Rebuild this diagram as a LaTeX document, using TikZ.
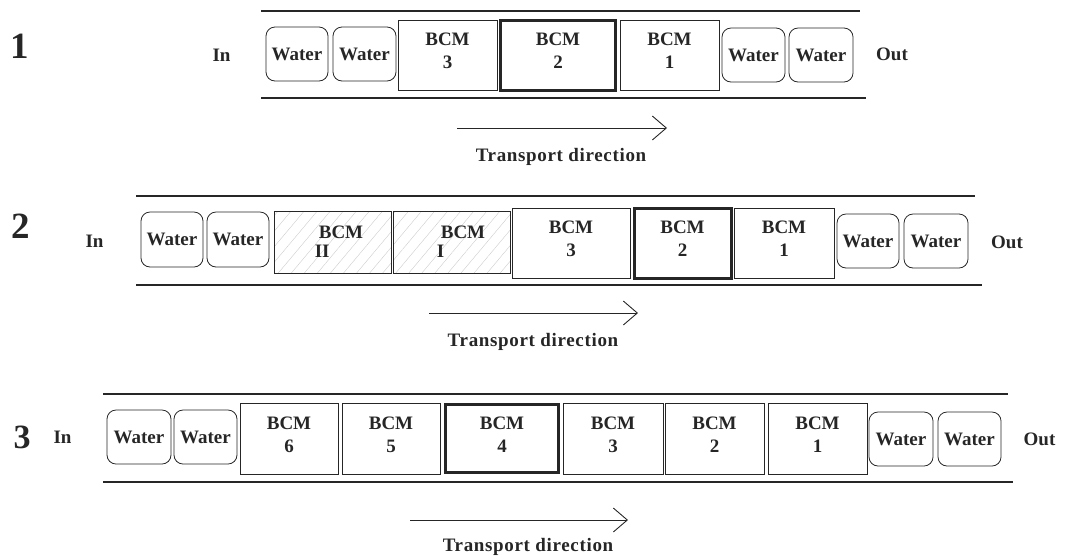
\documentclass[tikz,border=0pt]{standalone}
\usepackage{fontspec}
\setmainfont{Liberation Serif}
\usetikzlibrary{arrows.meta,patterns.meta}
\definecolor{ink}{HTML}{262626}
\begin{document}
\begin{tikzpicture}[x=1pt,y=-1pt,
  every node/.style={font=\fontsize{19}{23}\selectfont\bfseries, text=ink, inner sep=0pt},
  water/.style={draw=ink, line width=0.8pt, rounded corners=9pt, minimum height=54pt},
  bcm/.style={draw=ink, line width=0.9pt, align=center, minimum height=70pt, text depth=8pt},
  bcmbold/.style={bcm, line width=3pt},
  hatch/.style={draw=ink, line width=0.9pt, align=left, minimum height=62pt,
    pattern={Lines[angle=50,distance=10pt,line width=0.4pt]}, pattern color=gray!40},
  tube/.style={draw=ink, line width=1.6pt},
  dirarrow/.style={draw=ink, line width=0.9pt, -{Straight Barb[length=14pt,width=24pt,line width=0.9pt]}},
  dirtext/.style={font=\fontsize{19}{23}\selectfont\bfseries\addfontfeature{LetterSpace=3.5}},
  rownum/.style={font=\fontsize{37}{40}\selectfont\bfseries},
]
\useasboundingbox (0,0) rectangle (1078,558);

% ---------- Row 1 ----------
\node[rownum] (n1) at (20,46) {1};
\node (in1) at (221.5,55) {In};
\draw[tube] (261,11) -- (860,11);
\draw[tube] (261,98) -- (866,98);
\node[water, minimum width=62pt] (w11) at (297,54) {Water};
\node[water, minimum width=63pt] (w12) at (364.5,54) {Water};
\node[bcm, minimum width=99pt] (b13) at (447.5,55) {BCM\\3};
\node[bcmbold, minimum width=115pt] (b12) at (558,55) {BCM\\2};
\node[bcm, minimum width=99pt] (b11) at (669.5,55) {BCM\\1};
\node[water, minimum width=63pt] (w13) at (753.5,55) {Water};
\node[water, minimum width=64pt] (w14) at (821,55) {Water};
\node (out1) at (892,54) {Out};
\coordinate (a1s) at (457,128);
\coordinate (a1e) at (667,128);
\draw[dirarrow] (a1s) -- (a1e);
\node[dirtext] (t1) at (561,157) {Transport direction};

% ---------- Row 2 ----------
\node[rownum] (n2) at (21,226) {2};
\node (in2) at (94.5,241) {In};
\draw[tube] (136,196) -- (975,196);
\draw[tube] (136,285) -- (982,285);
\node[water, minimum width=62pt, minimum height=55pt] (w21) at (172,239.5) {Water};
\node[water, minimum width=62pt, minimum height=55pt] (w22) at (238,239.5) {Water};
\node[hatch, minimum width=117pt] (b2II) at (332.5,242) {\hspace*{17pt}BCM\\[-4pt]\hspace*{13pt}II};
\node[hatch, minimum width=117pt] (b2I) at (451.5,242) {\hspace*{23pt}BCM\\[-4pt]\hspace*{19pt}I};
\node[bcm, minimum width=118pt] (b23) at (571,243) {BCM\\3};
\node[bcmbold, minimum width=97pt] (b22) at (682.5,243) {BCM\\2};
\node[bcm, minimum width=100pt] (b21) at (784,243) {BCM\\1};
\node[water, minimum width=62pt] (w23) at (868,241) {Water};
\node[water, minimum width=64pt] (w24) at (936,241) {Water};
\node (out2) at (1007,242) {Out};
\coordinate (a2s) at (429,313);
\coordinate (a2e) at (638,313);
\draw[dirarrow] (a2s) -- (a2e);
\node[dirtext] (t2) at (533,342) {Transport direction};

% ---------- Row 3 ----------
\node[rownum, font=\fontsize{34}{38}\selectfont\bfseries] (n3) at (22,437) {3};
\node (in3) at (62.5,437) {In};
\draw[tube] (103,394) -- (1008,394);
\draw[tube] (103,482) -- (1013,482);
\node[water, minimum width=64pt] (w31) at (139,437) {Water};
\node[water, minimum width=63pt] (w32) at (205.5,437) {Water};
\node[bcm, minimum width=98pt, minimum height=71pt] (b36) at (289,438.5) {BCM\\6};
\node[bcm, minimum width=98pt, minimum height=71pt] (b35) at (391,438.5) {BCM\\5};
\node[bcmbold, minimum width=113pt, minimum height=68pt] (b34) at (502,438.5) {BCM\\4};
\node[bcm, minimum width=100pt, minimum height=71pt] (b33) at (613,438.5) {BCM\\3};
\node[bcm, minimum width=99pt, minimum height=71pt] (b32) at (714.5,438.5) {BCM\\2};
\node[bcm, minimum width=99pt, minimum height=71pt] (b31) at (817.5,438.5) {BCM\\1};
\node[water, minimum width=64pt] (w33) at (901,439) {Water};
\node[water, minimum width=63pt] (w34) at (969.5,439) {Water};
\node (out3) at (1039.5,439) {Out};
\coordinate (a3s) at (410,520);
\coordinate (a3e) at (628,520);
\draw[dirarrow] (a3s) -- (a3e);
\node[dirtext] (t3) at (528,547) {Transport direction};
\end{tikzpicture}
\end{document}
